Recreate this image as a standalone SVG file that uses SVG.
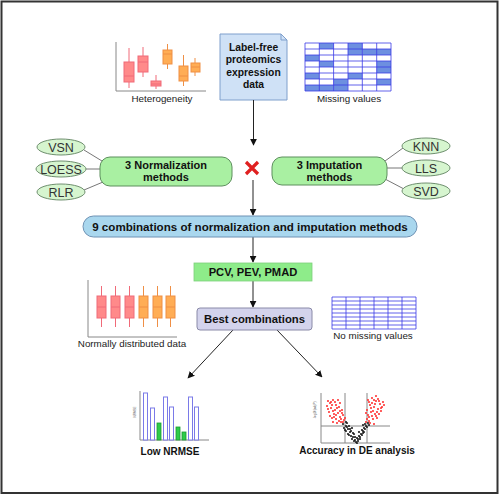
<svg xmlns="http://www.w3.org/2000/svg" width="500" height="496" viewBox="0 0 500 496">
<style>
.b{font-family:"Liberation Sans",Arial,sans-serif;font-weight:bold;fill:#111;text-anchor:middle}
.l{font-family:"Liberation Sans",Arial,sans-serif;fill:#222;text-anchor:middle;font-size:9.8px}
.e{font-family:"Liberation Sans",Arial,sans-serif;fill:#333;text-anchor:middle;font-size:12.5px}
.ell{fill:#d6f5cf;stroke:#6f8f6f;stroke-width:1}
.gn{fill:#a9f0a2;stroke:#5d8f5d;stroke-width:1}
.con{stroke:#777;stroke-width:1;fill:none}
.arr{stroke:#222;stroke-width:1;fill:none;marker-end:url(#ah)}
.ax{stroke:#888;stroke-width:1;fill:none}
.rb{fill:#ff8a8a;stroke:#f06a78;stroke-width:1}
.ob{fill:#ffad55;stroke:#ef8f45;stroke-width:1}
.rw{stroke:#f06a78;stroke-width:1}
.ow{stroke:#ef8f45;stroke-width:1}
.grid{stroke:#3a3ae6;stroke-width:0.8;fill:none}
.bar{fill:#fff;stroke:#7a7ae8;stroke-width:1}
.gbar{fill:#2ecc4a;stroke:#1a9a33;stroke-width:0.8}
</style>
<defs>
<marker id="ah" viewBox="0 0 10 10" refX="9" refY="5" markerWidth="7" markerHeight="7" orient="auto" markerUnits="userSpaceOnUse">
<path d="M0,0L10,5L0,10z" fill="#111"/>
</marker>
</defs>
<rect x="0" y="0" width="500" height="496" fill="#fff"/>
<rect x="1.5" y="1.5" width="496" height="491.5" fill="none" stroke="#333" stroke-width="2"/>

<g id="heterogeneity">
<path class="ax" d="M116,42V91H206"/>
<line class="rw" x1="129" y1="48" x2="129" y2="88"/><rect class="rb" x="124" y="62" width="10" height="20"/><line class="rw" x1="124" y1="76" x2="134" y2="76"/>
<line class="rw" x1="143" y1="47" x2="143" y2="77"/><rect class="rb" x="138" y="56" width="10" height="16"/><line class="rw" x1="138" y1="62" x2="148" y2="62"/>
<line class="rw" x1="156" y1="75" x2="156" y2="89"/><rect class="rb" x="151" y="81" width="10" height="5"/><line class="rw" x1="151" y1="84" x2="161" y2="84"/>
<line class="ow" x1="167.5" y1="44" x2="167.5" y2="69"/><rect class="ob" x="163" y="50" width="9" height="14"/><line class="ow" x1="163" y1="54" x2="172" y2="54"/>
<line class="ow" x1="183.5" y1="55" x2="183.5" y2="86"/><rect class="ob" x="179" y="66" width="9" height="15"/><line class="ow" x1="179" y1="76" x2="188" y2="76"/>
<line class="ow" x1="195" y1="58" x2="195" y2="76"/><rect class="ob" x="191" y="63" width="9" height="9"/><line class="ow" x1="191" y1="67" x2="200" y2="67"/>
<text class="l" x="162" y="102">Heterogeneity</text>
</g>

<g id="data">
<path d="M220,34H281L287,40V100H220Z" fill="#cfe1f6" stroke="#7f9fcc" stroke-width="1"/>
<path d="M281,34V40H287" fill="none" stroke="#7f9fcc" stroke-width="1"/>
<text class="b" font-size="10.3" x="253.5" y="51">Label-free</text>
<text class="b" font-size="10.3" x="253.5" y="63">proteomics</text>
<text class="b" font-size="10.3" x="253.5" y="76">expression</text>
<text class="b" font-size="10.3" x="253.5" y="88">data</text>
</g>

<g id="missing">
<rect x="305" y="43" width="86" height="48" fill="#fff"/>
<g fill="#6d8fe0">
<rect x="319.3" y="43" width="14.3" height="6"/>
<rect x="348" y="43" width="14.3" height="12"/>
<rect x="362.3" y="49" width="28.7" height="6"/>
<rect x="305" y="55" width="14.3" height="6"/>
<rect x="319.3" y="61" width="14.3" height="6"/>
<rect x="376.7" y="61" width="14.3" height="12"/>
<rect x="305" y="73" width="14.3" height="6"/>
<rect x="348" y="73" width="14.3" height="6"/>
<rect x="333.6" y="79" width="14.3" height="12"/>
<rect x="376.7" y="79" width="14.3" height="6"/>
<rect x="305" y="85" width="28.6" height="6"/>
</g>
<path class="grid" d="M305,43H391V91H305Z M319.3,43V91 M333.6,43V91 M348,43V91 M362.3,43V91 M376.7,43V91 M305,49H391 M305,55H391 M305,61H391 M305,67H391 M305,73H391 M305,79H391 M305,85H391"/>
<text class="l" x="349" y="102">Missing values</text>
</g>

<g id="cross">
<path d="M246,162L258,174M258,162L246,174" stroke="#e02020" stroke-width="3.2" stroke-linecap="butt"/>
</g>

<g id="connectors">
<line class="arr" x1="253.5" y1="100" x2="253.5" y2="145"/>
<line class="arr" x1="253" y1="180" x2="253" y2="215"/>
<line class="con" x1="84" y1="150" x2="102" y2="161"/>
<line class="con" x1="86" y1="169" x2="100" y2="169"/>
<line class="con" x1="84" y1="190" x2="103" y2="182"/>
<line class="con" x1="385" y1="161" x2="403" y2="148"/>
<line class="con" x1="387" y1="168" x2="402" y2="168"/>
<line class="con" x1="385" y1="179" x2="404" y2="189"/>
<line class="arr" x1="253" y1="237" x2="253" y2="262"/>
<line class="arr" x1="253" y1="281" x2="253" y2="307"/>
<line class="arr" x1="233" y1="330" x2="188" y2="378"/>
<line class="arr" x1="277" y1="330" x2="322" y2="377"/>
</g>

<g id="vsn"><ellipse class="ell" cx="61" cy="147" rx="24" ry="8"/><text class="e" x="61" y="151.5">VSN</text></g>
<g id="loess"><ellipse class="ell" cx="61" cy="169" rx="25" ry="8"/><text class="e" x="61" y="173.5">LOESS</text></g>
<g id="rlr"><ellipse class="ell" cx="61" cy="192" rx="24" ry="8"/><text class="e" x="61" y="196.5">RLR</text></g>

<g id="normalization">
<rect class="gn" x="100" y="157" width="132" height="29" rx="10"/>
<text class="b" font-size="11" x="166" y="169">3 Normalization</text>
<text class="b" font-size="11" x="166" y="180.5">methods</text>
</g>

<g id="imputation">
<rect class="gn" x="272" y="157" width="115" height="28" rx="10"/>
<text class="b" font-size="11" x="329.5" y="169">3 Imputation</text>
<text class="b" font-size="11" x="329.5" y="180.5">methods</text>
</g>

<g id="knn"><ellipse class="ell" cx="426" cy="146" rx="24" ry="8"/><text class="e" x="426" y="150.5">KNN</text></g>
<g id="lls"><ellipse class="ell" cx="426" cy="168" rx="24" ry="8"/><text class="e" x="426" y="172.5">LLS</text></g>
<g id="svd"><ellipse class="ell" cx="426" cy="191" rx="24" ry="8"/><text class="e" x="426" y="195.5">SVD</text></g>

<g id="combinations">
<rect x="83" y="216" width="334" height="21" rx="10.5" fill="#a9d7ee" stroke="#6f92b4" stroke-width="1"/>
<text class="b" font-size="11.6" x="250" y="230.5">9 combinations of normalization and imputation methods</text>
</g>

<g id="metrics">
<rect x="194" y="263" width="118" height="18" fill="#8eec8a" stroke="#7ed07a" stroke-width="0.8"/>
<text class="b" font-size="11.2" x="253" y="276">PCV, PEV, PMAD</text>
</g>

<g id="best">
<rect x="197" y="308" width="115" height="22" rx="3" fill="#d3d3ec" stroke="#8a8aa8" stroke-width="1"/>
<text class="b" font-size="11.3" x="254.5" y="323">Best combinations</text>
</g>

<g id="normal">
<path class="ax" d="M88,280V337H177"/>
<g>
<line class="rw" x1="101.5" y1="286" x2="101.5" y2="327"/><rect class="rb" x="97" y="296" width="9" height="22"/><line class="rw" x1="97" y1="307" x2="106" y2="307"/>
<line class="rw" x1="115.5" y1="286" x2="115.5" y2="327"/><rect class="rb" x="111" y="296" width="9" height="22"/><line class="rw" x1="111" y1="307" x2="120" y2="307"/>
<line class="rw" x1="129.5" y1="286" x2="129.5" y2="327"/><rect class="rb" x="125" y="296" width="9" height="22"/><line class="rw" x1="125" y1="307" x2="134" y2="307"/>
<line class="ow" x1="143.5" y1="286" x2="143.5" y2="327"/><rect class="ob" x="139" y="296" width="9" height="22"/><line class="ow" x1="139" y1="307" x2="148" y2="307"/>
<line class="ow" x1="157.5" y1="286" x2="157.5" y2="327"/><rect class="ob" x="153" y="296" width="9" height="22"/><line class="ow" x1="153" y1="307" x2="162" y2="307"/>
<line class="ow" x1="170.5" y1="286" x2="170.5" y2="327"/><rect class="ob" x="166" y="296" width="9" height="22"/><line class="ow" x1="166" y1="307" x2="175" y2="307"/>
</g>
<text class="l" x="132" y="347">Normally distributed data</text>
</g>

<g id="nomissing">
<path class="grid" d="M332,297H416V329H332Z M346,297V329 M360,297V329 M374,297V329 M388,297V329 M402,297V329 M332,301H416 M332,305H416 M332,309H416 M332,313H416 M332,317H416 M332,321H416 M332,325H416"/>
<text class="l" x="373" y="339">No missing values</text>
</g>

<g id="nrmse">
<path class="ax" d="M140,391V440H209"/>
<rect class="bar" x="143.5" y="393" width="4" height="47"/>
<rect class="bar" x="150.5" y="408" width="4" height="32"/>
<rect class="gbar" x="157" y="423" width="4" height="17"/>
<rect class="bar" x="163.5" y="397" width="4" height="43"/>
<rect class="bar" x="169.5" y="407" width="4" height="33"/>
<rect class="gbar" x="176" y="427" width="4" height="13"/>
<rect class="gbar" x="182" y="432" width="4" height="8"/>
<rect class="bar" x="188.5" y="397" width="4" height="43"/>
<rect class="bar" x="194.5" y="407" width="4" height="33"/>
<text font-family="Liberation Sans,Arial,sans-serif" font-size="3" fill="#555" text-anchor="middle" transform="translate(136,412) rotate(-90)">NRMSE</text>
<text class="b" font-size="10" x="170" y="455">Low NRMSE</text>
</g>

<g id="volcano">
<path class="ax" d="M321,393V443H390 M345,393V443 M367,393V443 M321,426H390"/>
<path stroke="#ff3a3a" stroke-width="2.2" stroke-linecap="round" fill="none" d="M330,403h0M333,400h0M336,405h0M331,408h0M335,410h0M339,407h0M334,414h0M338,413h0M342,410h0M329,412h0M332,418h0M336,419h0M340,417h0M343,415h0M337,423h0M341,422h0M344,420h0M333,422h0M330,416h0M340,403h0M345,418h0M338,400h0M327,406h0M328,401h0M335,402h0M332,405h0M337,408h0M340,411h0M333,411h0M336,415h0M341,419h0M339,421h0M334,417h0M331,402h0M343,422h0M328,409h0M342,413h0M368,400h0M372,398h0M376,401h0M380,404h0M370,405h0M374,407h0M378,409h0M382,407h0M367,410h0M371,412h0M375,414h0M379,414h0M369,417h0M373,419h0M377,418h0M366,422h0M370,423h0M374,424h0M381,411h0M376,396h0M383,402h0M368,415h0M378,399h0M372,403h0M371,408h0M375,404h0M379,401h0M373,411h0M377,412h0M367,419h0M372,416h0M376,416h0M369,421h0M381,408h0M384,405h0M369,402h0M374,400h0M366,413h0"/>
<path stroke="#222" stroke-width="2.2" stroke-linecap="round" fill="none" d="M343,424h0M346,426h0M344,428h0M348,429h0M346,431h0M350,432h0M348,434h0M351,436h0M353,437h0M352,439h0M355,440h0M356,442h0M358,441h0M357,438h0M360,439h0M359,436h0M361,434h0M363,433h0M362,430h0M364,428h0M366,426h0M365,424h0M368,423h0M347,427h0M350,429h0M354,434h0M360,437h0M363,431h0M349,435h0M345,430h0M354,441h0M357,443h0M347,423h0M349,426h0M351,431h0M353,433h0M355,437h0M362,435h0M364,432h0M365,429h0M367,427h0M363,425h0M358,439h0M352,428h0M359,432h0M346,422h0M369,425h0"/>
<text font-family="Liberation Sans,Arial,sans-serif" font-size="3" fill="#555" text-anchor="middle" transform="translate(316,410) rotate(-90)">-log10(adj.P)</text>
<text class="b" font-size="10" x="357" y="454">Accuracy in DE analysis</text>
</g>
</svg>
